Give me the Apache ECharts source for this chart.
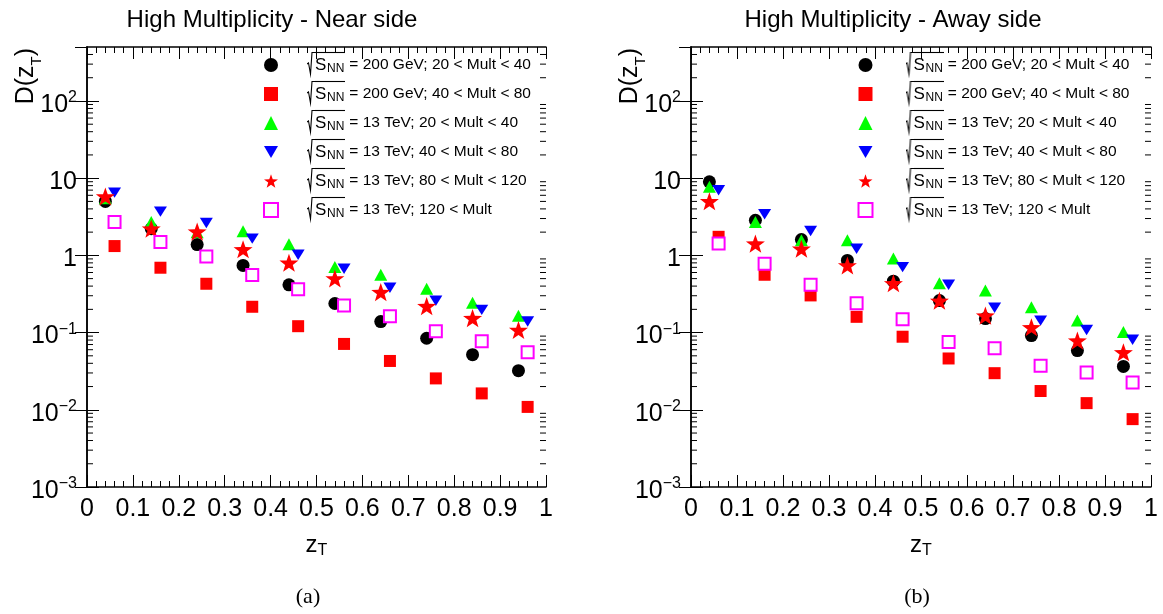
<!DOCTYPE html>
<html>
<head>
<meta charset="utf-8">
<script src="https://cdn.jsdelivr.net/npm/echarts@6.0.0/dist/echarts.min.js"></script>
<style>
html,body{margin:0;padding:0;background:#fff;}
#main{width:1163px;height:614px;}
</style>
</head>
<body>
<div id="main"></div>
<script>
// bin centres in z_T
var zT = [0.05, 0.15, 0.25, 0.35, 0.45, 0.55, 0.65, 0.75, 0.85, 0.95];

// legend labels (text after sqrt(s_NN))
var seriesNames = [
    '200 GeV; 20 < Mult < 40',
    '200 GeV; 40 < Mult < 80',
    '13 TeV; 20 < Mult < 40',
    '13 TeV; 40 < Mult < 80',
    '13 TeV; 80 < Mult < 120',
    '13 TeV; 120 < Mult'
];

// near side D(zT)
var nearBlack = [5.0, 2.22, 1.38, 0.741, 0.416, 0.238, 0.139, 0.0844, 0.0518, 0.0321];
var nearRed   = [1.32, 0.692, 0.429, 0.216, 0.121, 0.0713, 0.0429, 0.0255, 0.0163, 0.0109];
var nearGreen = [5.5, 2.71, 2.0, 2.05, 1.39, 0.705, 0.561, 0.369, 0.243, 0.165];
var nearBlue  = [6.5, 3.69, 2.63, 1.65, 1.02, 0.671, 0.380, 0.258, 0.197, 0.139];
var nearStar  = [5.8, 2.22, 2.03, 1.20, 0.803, 0.503, 0.334, 0.220, 0.154, 0.108];
var nearMag   = [2.71, 1.49, 0.97, 0.556, 0.365, 0.224, 0.163, 0.104, 0.0771, 0.0555];

// away side D(zT)
var awayBlack = [8.96, 2.85, 1.60, 0.861, 0.464, 0.260, 0.152, 0.0914, 0.0584, 0.0365];
var awayRed   = [1.74, 0.561, 0.303, 0.160, 0.0884, 0.0462, 0.0298, 0.0175, 0.0122, 0.00757];
var awayGreen = [7.72, 2.71, 1.57, 1.57, 0.91, 0.437, 0.351, 0.213, 0.143, 0.102];
var awayBlue  = [6.98, 3.41, 2.07, 1.22, 0.705, 0.416, 0.210, 0.143, 0.108, 0.0806];
var awayStar  = [5.03, 1.42, 1.22, 0.741, 0.435, 0.258, 0.166, 0.117, 0.0787, 0.0555];
var awayMag   = [1.42, 0.780, 0.416, 0.240, 0.149, 0.0755, 0.0626, 0.0373, 0.0305, 0.0226];

// y axis range and minor tick mantissas
var yMin = 0.001, yMax = 500;
var minorMantissa = [2, 3, 4, 5, 6, 7, 8, 9];
var decades = [0.001, 0.01, 0.1, 1, 10, 100];

var FONT = 'Liberation Sans';
var STAR = 'path://M0,-10L2.35,-3.24L9.51,-3.09L3.8,1.24L5.88,8.09L0,4.1L-5.88,8.09L-3.8,1.24L-9.51,-3.09L-2.35,-3.24Z';
var DOWN = 'path://M0,0L12,0L6,10.4Z';

// marker style of each series, with small horizontal shift
var markers = [
    {symbol: 'circle', size: 13, color: '#000000', shift: -0.01},
    {symbol: 'rect', size: 12, color: '#ff0000', shift: 0.01},
    {symbol: 'triangle', size: [13, 12], color: '#00ff00', shift: -0.01},
    {symbol: DOWN, size: [13, 12], color: '#0000ff', shift: 0.01},
    {symbol: STAR, size: 19, color: '#ff0000', shift: -0.01},
    {symbol: 'emptyRect', size: 12, color: '#ff00ff', shift: 0.01}
];

var grids = [
    {left: 87, top: 47, width: 459, height: 440, outerBoundsMode: 'none'},
    {left: 691, top: 47, width: 460, height: 440, outerBoundsMode: 'none'}
];

var lineSt = {color: '#000', width: 1.5};

function xAxes(g) {
    var base = {
        gridIndex: g, type: 'value', min: 0, max: 1, interval: 0.1,
        axisLine: {show: true, onZero: false, lineStyle: lineSt},
        axisTick: {show: true, inside: true, length: 12, lineStyle: {color: '#000', width: 1}},
        minorTick: {show: true, splitNumber: 5, length: 6, lineStyle: {color: '#000', width: 1}},
        splitLine: {show: false}
    };
    var bottom = echarts.util.merge({
        position: 'bottom',
        axisLabel: {
            color: '#000', fontFamily: FONT, fontSize: 25, margin: 10,
            formatter: function (v) { return (v === 0 || v === 1) ? String(v) : v.toFixed(1); }
        },
        name: '{t|z}{s|T}', nameLocation: 'middle', nameGap: 39,
        nameTextStyle: {
            rich: {
                t: {fontFamily: FONT, fontSize: 24, color: '#000', lineHeight: 26, verticalAlign: 'top'},
                s: {fontFamily: FONT, fontSize: 16, color: '#000', lineHeight: 12, padding: [16, 0, 0, 0], verticalAlign: 'bottom'}
            }
        }
    }, base, true);
    var top = echarts.util.merge({position: 'top', axisLabel: {show: false}}, base, true);
    return [bottom, top];
}

function yLabel(v) {
    var e = Math.round(Math.log10(v));
    if (Math.abs(Math.log10(v) - e) > 1e-6) return '';
    if (e === 0) return '{b|1}';
    if (e === 1) return '{b|10}';
    return '{b|10}{p|' + (e < 0 ? '\u2212' + (-e) : e) + '}';
}

function yAxes(g) {
    var base = {
        gridIndex: g, type: 'log', logBase: 10, min: yMin, max: yMax,
        axisLine: {show: true, lineStyle: lineSt},
        axisTick: {show: true, inside: true, length: 12, lineStyle: {color: '#000', width: 1}},
        splitLine: {show: false}
    };
    var left = echarts.util.merge({
        position: 'left',
        axisLabel: {
            margin: 10, showMaxLabel: false, formatter: yLabel, padding: [8, 0, 0, 0],
            rich: {
                b: {fontFamily: FONT, fontSize: 25, color: '#000', lineHeight: 30},
                p: {fontFamily: FONT, fontSize: 16, color: '#000', lineHeight: 12, verticalAlign: 'top'}
            }
        },
        name: '{t|D(z}{s|T}{t|)}', nameLocation: 'end', nameRotate: 90, nameGap: -1,
        nameMoveOverlap: false,
        nameTextStyle: {
            align: 'right', verticalAlign: 'bottom', padding: [0, 0, 43, 0],
            rich: {
                t: {fontFamily: FONT, fontSize: 25, color: '#000', lineHeight: 30, verticalAlign: 'top'},
                s: {fontFamily: FONT, fontSize: 15, color: '#000', lineHeight: 10, padding: [28, 0, 0, 0], verticalAlign: 'bottom'}
            }
        }
    }, base, true);
    var right = echarts.util.merge({position: 'right', axisLabel: {show: false}}, base, true);
    return [left, right];
}

function minorTickSeries(g) {
    var vals = [];
    decades.forEach(function (d) {
        minorMantissa.forEach(function (m) {
            if (d * m < yMax) vals.push([0, d * m]);
        });
    });
    return {
        type: 'custom', xAxisIndex: g * 2, yAxisIndex: g * 2, silent: true, clip: false,
        data: vals, z: 1,
        renderItem: function (params, api) {
            var pl = api.coord([0, api.value(1)]);
            var pr = api.coord([1, api.value(1)]);
            var st = {stroke: '#000', lineWidth: 1};
            return {
                type: 'group', children: [
                    {type: 'line', shape: {x1: pl[0], y1: pl[1], x2: pl[0] + 6, y2: pl[1]}, style: st},
                    {type: 'line', shape: {x1: pr[0], y1: pr[1], x2: pr[0] - 6, y2: pr[1]}, style: st}
                ]
            };
        }
    };
}

function panelSeries(g, sets) {
    return sets.map(function (vals, k) {
        var mk = markers[k];
        return {
            type: 'scatter', name: seriesNames[k],
            xAxisIndex: g * 2, yAxisIndex: g * 2,
            symbol: mk.symbol, symbolSize: mk.size, symbolKeepAspect: true,
            itemStyle: {color: mk.color, opacity: 1},
            emphasis: {disabled: true},
            z: 3 + k,
            data: vals.map(function (v, i) { return [zT[i] + mk.shift, v]; })
        };
    });
}

// legend: the radical sign and its overline are small images behind rich text tokens
var ROW_H = 28, ICON = 14;

function strokeImage(w, h, pts) {
    var cv = document.createElement('canvas');
    cv.width = w; cv.height = h;
    var c = cv.getContext('2d');
    c.strokeStyle = '#000';
    c.lineWidth = 1.1;
    c.beginPath();
    pts.forEach(function (p, i) { if (i) c.lineTo(p[0], p[1]); else c.moveTo(p[0], p[1]); });
    c.stroke();
    return cv;
}
var radImg = strokeImage(8, ROW_H, [[0, 13], [1.5, 12], [3.5, 23], [5, 1.5], [8, 1.5]]);
var barImg = strokeImage(20, ROW_H, [[0, 1.5], [20, 1.5]]);

var measure = document.createElement('canvas').getContext('2d');
measure.font = '17px "' + FONT + '"';
var wS = Math.ceil(measure.measureText('S').width);
measure.font = '12px "' + FONT + '"';
var wNN = Math.ceil(measure.measureText('NN').width);

function legendRich(spWidth) {
    return {
        sp: {width: spWidth, height: ROW_H, lineHeight: ROW_H},
        r: {width: 8, height: ROW_H, lineHeight: ROW_H, backgroundColor: {image: radImg}},
        s: {fontFamily: FONT, fontSize: 17, color: '#000', width: wS, height: ROW_H, lineHeight: ROW_H,
            backgroundColor: {image: barImg}},
        n: {fontFamily: FONT, fontSize: 12, color: '#000', width: wNN, height: 12, lineHeight: 12,
            padding: [12, 0, 4, 0], verticalAlign: 'bottom', backgroundColor: {image: barImg}},
        t: {fontFamily: FONT, fontSize: 15.5, color: '#000', height: ROW_H, lineHeight: ROW_H}
    };
}

function makeLegend(left, spWidth) {
    return {
        data: seriesNames, orient: 'vertical', left: left, top: 46,
        itemWidth: ICON, itemHeight: ICON, itemGap: 1, selectedMode: false,
        formatter: function (name) { return '{sp|}{r|}{s|S}{n|NN}{t| = ' + name + '}'; },
        textStyle: {rich: legendRich(spWidth), lineHeight: ROW_H}
    };
}

var titleStyle = {fontFamily: FONT, fontSize: 24, fontWeight: 'normal', color: '#000'};
var capStyle = {fontFamily: 'Liberation Serif', fontSize: 22, fontWeight: 'normal', color: '#000'};

var option = {
    backgroundColor: '#fff',
    animation: false,
    title: [
        {text: 'High Multiplicity - Near side', left: 267, top: 3, textAlign: 'center', textStyle: titleStyle},
        {text: 'High Multiplicity - Away side', left: 888, top: 3, textAlign: 'center', textStyle: titleStyle},
        {text: '(a)', left: 303, top: 581, textAlign: 'center', textStyle: capStyle},
        {text: '(b)', left: 912, top: 581, textAlign: 'center', textStyle: capStyle}
    ],
    grid: grids,
    xAxis: xAxes(0).concat(xAxes(1)),
    yAxis: yAxes(0).concat(yAxes(1)),
    legend: [makeLegend(258, 24), makeLegend(852.5, 28)],
    series: [minorTickSeries(0), minorTickSeries(1)]
        .concat(panelSeries(0, [nearBlack, nearRed, nearGreen, nearBlue, nearStar, nearMag]))
        .concat(panelSeries(1, [awayBlack, awayRed, awayGreen, awayBlue, awayStar, awayMag]))
};

var chart = echarts.init(document.getElementById('main'), null, {renderer: 'canvas'});
chart.setOption(option);
</script>
</body>
</html>
